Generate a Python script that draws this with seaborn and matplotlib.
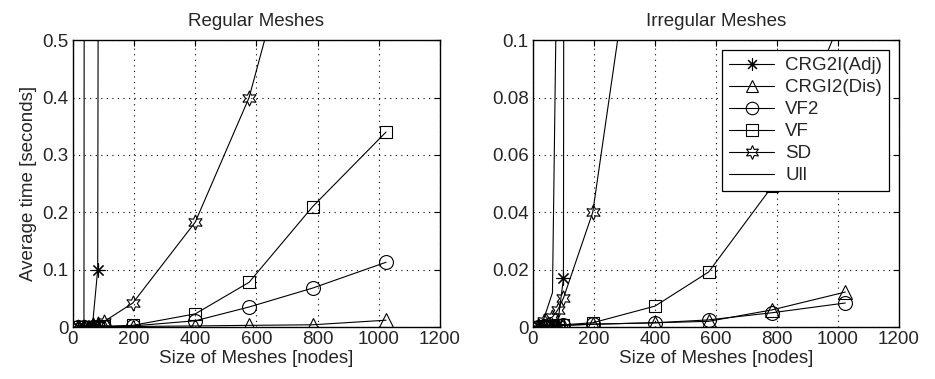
import numpy as np
import pandas as pd
import matplotlib
matplotlib.use("Agg")
import matplotlib.pyplot as plt
import seaborn as sns
from matplotlib.lines import Line2D

sns.set_style("white")
plt.rcParams['font.family'] = ['Liberation Sans', 'DejaVu Sans']

FS = 13.5

# mesh sizes (nodes)
sizes = [16, 36, 64, 81, 100, 196, 400, 576, 784, 1024]

# Regular meshes - average time [s]
reg_crg2i_adj = [0.0005, 0.001, 0.003, 0.100, 6.0]
reg_crgi2_dis = [0.0003, 0.0004, 0.0005, 0.0006, 0.0007, 0.001, 0.002, 0.003, 0.004, 0.012]
reg_vf2 = [0.0003, 0.0004, 0.0006, 0.0008, 0.001, 0.002, 0.011, 0.035, 0.068, 0.113]
reg_vf = [0.0003, 0.0004, 0.0007, 0.001, 0.0012, 0.003, 0.023, 0.078, 0.21, 0.34]
reg_sd = [0.0005, 0.001, 0.003, 0.005, 0.009, 0.042, 0.183, 0.40, 0.81, 1.6]
reg_ull = [0.0005, 0.001, 20.0]

# Irregular meshes - average time [s]
irr_crg2i_adj = [0.0003, 0.0005, 0.0008, 0.001, 0.017, 10.0]
irr_crgi2_dis = [0.0002, 0.0003, 0.0004, 0.0005, 0.0006, 0.001, 0.0015, 0.002, 0.006, 0.0122]
irr_vf2 = [0.0002, 0.0003, 0.0004, 0.0005, 0.0006, 0.001, 0.0015, 0.0025, 0.005, 0.0084]
irr_vf = [0.0002, 0.0003, 0.0005, 0.0006, 0.0008, 0.0015, 0.0073, 0.0192, 0.049, 0.111]
irr_sd = [0.0005, 0.002, 0.0035, 0.0059, 0.0101, 0.040, 0.19]
irr_ull = [0.0005, 0.003, 0.012, 0.15, 5.0]

methods = ['CRG2I(Adj)', 'CRGI2(Dis)', 'VF2', 'VF', 'SD', 'Ull']
markers = {'CRG2I(Adj)': (8, 2, 0), 'CRGI2(Dis)': '^', 'VF2': 'o', 'VF': 's',
           'SD': (6, 1, 0), 'Ull': None}
msizes = {'CRG2I(Adj)': 10, 'CRGI2(Dis)': 10, 'VF2': 10, 'VF': 9, 'SD': 11, 'Ull': 0}

regular = [reg_crg2i_adj, reg_crgi2_dis, reg_vf2, reg_vf, reg_sd, reg_ull]
irregular = [irr_crg2i_adj, irr_crgi2_dis, irr_vf2, irr_vf, irr_sd, irr_ull]

fig = plt.figure(figsize=(9.35, 3.79), dpi=100)
ax1 = fig.add_axes([0.078, 0.137, 0.3925, 0.757])
ax2 = fig.add_axes([0.570, 0.137, 0.3915, 0.757])


def draw(ax, series, title, ymax, yticks, ylabels):
    for name, vals in zip(methods, series):
        df = pd.DataFrame({'size': sizes[:len(vals)], 'time': vals})
        kw = dict(color='k', linewidth=0.8, label=name)
        if markers[name] is not None:
            kw.update(marker=markers[name], markersize=msizes[name],
                      mfc='none', mec='k', mew=0.8)
        sns.lineplot(data=df, x='size', y='time', ax=ax, sort=False, **kw)
    ax.set_xlim(0, 1200)
    ax.set_ylim(0, ymax)
    ax.set_xticks(range(0, 1201, 200))
    ax.set_yticks(yticks)
    ax.set_yticklabels(ylabels)
    ax.grid(True, color='k', linestyle=(0, (1, 4)), linewidth=0.8)
    ax.tick_params(direction='in', top=True, right=True, labelsize=FS,
                   length=4, color='k', pad=3)
    for s in ax.spines.values():
        s.set_color('k')
        s.set_linewidth(1.0)
    ax.set_title(title, fontsize=FS, pad=10)
    ax.set_xlabel('Size of Meshes [nodes]', fontsize=FS, labelpad=1)
    ax.set_ylabel('')
    if ax.get_legend() is not None:
        ax.get_legend().remove()


draw(ax1, regular, 'Regular Meshes', 0.5,
     [0, 0.1, 0.2, 0.3, 0.4, 0.5], ['0', '0.1', '0.2', '0.3', '0.4', '0.5'])
ax1.set_ylabel('Average time [seconds]', fontsize=FS, labelpad=4)
draw(ax2, irregular, 'Irregular Meshes', 0.1,
     [0, 0.02, 0.04, 0.06, 0.08, 0.1], ['0', '0.02', '0.04', '0.06', '0.08', '0.1'])

handles = []
for name in methods:
    if markers[name] is None:
        handles.append(Line2D([], [], color='k', linewidth=0.8, label=name))
    else:
        handles.append(Line2D([], [], color='k', linewidth=0.8, marker=markers[name],
                              markersize=msizes[name] - 1, mfc='none', mec='k',
                              mew=0.8, label=name))
leg = ax2.legend(handles=handles, loc='upper right', fontsize=FS,
                 fancybox=False, framealpha=1, edgecolor='k',
                 borderaxespad=0.55, handlelength=2.4, labelspacing=0.26,
                 borderpad=0.35, handletextpad=0.6)
leg.get_frame().set_linewidth(0.9)

fig.savefig('out.png', dpi=100)
